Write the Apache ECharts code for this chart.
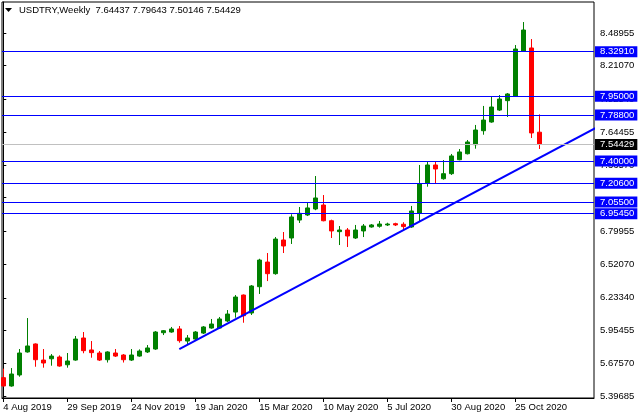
<!DOCTYPE html>
<html><head><meta charset="utf-8">
<script src="https://cdn.jsdelivr.net/npm/echarts@6/dist/echarts.min.js"></script>
<style>html,body{margin:0;padding:0;background:#fff}#c{width:640px;height:420px}</style>
</head><body><div id="c"></div>
<script>
const symbolName = 'USDTRY';
const period = 'Weekly';
const opens = [5.553,5.482,5.576,5.772,5.840,5.703,5.714,5.729,5.663,5.703,5.891,5.789,5.763,5.706,5.763,5.746,5.703,5.737,5.772,5.797,5.936,5.942,5.968,5.865,5.882,5.933,5.976,5.976,6.036,6.112,6.257,6.104,6.328,6.538,6.439,6.726,6.743,6.896,6.939,6.990,7.024,6.890,6.797,6.811,6.743,6.803,6.837,6.843,6.854,6.865,6.860,6.837,6.956,7.212,7.365,7.248,7.291,7.410,7.461,7.538,7.657,7.731,7.833,7.913,7.953,8.336,8.362,7.64437];
const closes = [5.482,5.584,5.763,5.823,5.706,5.678,5.737,5.652,5.695,5.882,5.783,5.766,5.703,5.772,5.737,5.706,5.746,5.780,5.806,5.942,5.953,5.968,5.868,5.891,5.942,5.985,6.010,6.053,6.095,6.240,6.081,6.334,6.555,6.439,6.734,6.675,6.922,6.953,6.999,7.084,6.890,6.803,6.811,6.760,6.811,6.845,6.854,6.862,6.862,6.854,6.840,6.973,7.206,7.365,7.331,7.291,7.442,7.476,7.561,7.663,7.748,7.859,7.927,7.970,8.353,8.515,7.638,7.54429];
const lows = [5.478,5.476,5.561,5.766,5.646,5.638,5.655,5.646,5.638,5.697,5.761,5.723,5.695,5.682,5.729,5.682,5.695,5.731,5.763,5.790,5.916,5.936,5.851,5.831,5.874,5.925,5.970,5.970,6.027,6.064,6.021,6.087,6.266,6.376,6.430,6.615,6.692,6.871,6.930,6.980,6.885,6.743,6.683,6.666,6.735,6.751,6.831,6.831,6.845,6.845,6.805,6.830,6.879,7.180,7.209,7.240,7.280,7.405,7.455,7.504,7.623,7.725,7.825,7.774,7.945,8.330,7.595,7.50146];
const highs = [5.630,5.635,5.797,6.061,5.845,5.797,5.754,5.743,5.763,5.908,5.942,5.865,5.780,5.778,5.797,5.754,5.797,5.794,5.831,5.950,5.959,5.985,5.993,5.916,5.950,5.993,6.053,6.070,6.129,6.257,6.262,6.342,6.566,6.615,6.751,6.794,6.945,7.007,7.041,7.271,7.109,6.899,6.845,6.828,6.854,6.862,6.862,6.888,6.873,6.873,6.877,7.016,7.365,7.394,7.394,7.407,7.459,7.501,7.578,7.706,7.868,7.944,7.961,7.978,8.387,8.583,8.438,7.79643];
const xTickIdx = [0,8,16,24,32,40,48,56,64];
const xTickLabels = ['4 Aug 2019','29 Sep 2019','24 Nov 2019','19 Jan 2020','15 Mar 2020','10 May 2020','5 Jul 2020','30 Aug 2020','25 Oct 2020'];
const yTicks = [8.48955,8.21070,7.92540,7.64455,7.36570,7.08685,6.79955,6.52070,6.23340,5.95455,5.67570,5.39685];
const yTickLabels = [8.48955,8.21070,7.92540,7.64455,7.36570,6.79955,6.52070,6.23340,5.95455,5.67570,5.39685];
const levels = [8.32910,7.95000,7.78800,7.40000,7.20600,7.05500,6.95450];
const trendX = [22, 74];
const trendY = [5.797, 7.678];

const FONT = '"Liberation Sans", Arial, sans-serif';
const candles = opens.map((o, i) => [i, o, closes[i], lows[i], highs[i]]);
const last = opens.length - 1;
const chart = echarts.init(document.getElementById('c'), null, {renderer: 'canvas'});
const levelData = levels.map(v => ({
  name: v.toFixed(5),
  yAxis: v,
  lineStyle: {color: '#0000FF', width: 1, type: 'solid', opacity: 1},
  label: {backgroundColor: '#0000FF', color: '#fff'}
}));
levelData.push({
  name: closes[last].toFixed(5),
  yAxis: closes[last],
  lineStyle: {color: '#C0C0C0', width: 1, type: 'solid', opacity: 1},
  label: {backgroundColor: '#000', color: '#fff'}
});
chart.setOption({
  animation: false,
  backgroundColor: '#fff',
  title: {
    text: symbolName + ',' + period + '  ' + opens[last].toFixed(5) + ' ' + highs[last].toFixed(5) + ' ' + lows[last].toFixed(5) + ' ' + closes[last].toFixed(5),
    left: 19, top: 5, padding: 0,
    textStyle: {fontFamily: FONT, fontSize: 9.5, fontWeight: 'normal', color: '#000'}
  },
  graphic: [{type: 'polygon', shape: {points: [[5, 8], [12, 8], [8.5, 12]]}, style: {fill: '#000'}}],
  grid: {left: 2, right: 46, top: 2, bottom: 22, show: true, borderColor: '#000', borderWidth: 1, backgroundColor: '#fff'},
  xAxis: {
    type: 'value', min: -0.1625, max: 73.8375,
    splitLine: {show: false},
    axisLine: {lineStyle: {color: '#000'}},
    axisTick: {customValues: xTickIdx, length: 4, lineStyle: {color: '#000'}},
    axisLabel: {customValues: xTickIdx, formatter: v => xTickLabels[xTickIdx.indexOf(v)] || '', align: 'left', margin: 4, color: '#000', fontFamily: FONT, fontSize: 9.5}
  },
  yAxis: {
    type: 'value', position: 'right', min: 5.37973, max: 8.75367,
    splitLine: {show: false},
    axisLine: {show: true, lineStyle: {color: '#000'}},
    axisTick: {show: true, customValues: yTicks, length: 3, lineStyle: {color: '#000'}},
    axisLabel: {customValues: yTickLabels, formatter: v => v.toFixed(5), margin: 6, color: '#000', fontFamily: FONT, fontSize: 9.5}
  },
  series: [
    {
      type: 'candlestick',
      data: candles,
      encode: {x: 0, y: [1, 2, 3, 4]},
      barWidth: 4,
      clip: true,
      itemStyle: {color: '#008000', color0: '#FF0000', borderColor: '#008000', borderColor0: '#FF0000', borderWidth: 1},
      markLine: {
        silent: true, animation: false, symbol: ['none', 'none'],
        lineStyle: {color: '#0000FF', width: 1, type: 'solid', opacity: 1},
        label: {position: 'end', formatter: '{b}', distance: 1, padding: [1, 3, 0, 5], fontFamily: FONT, fontSize: 9.5},
        data: levelData
      }
    },
    {
      type: 'line',
      data: trendX.map((x, i) => [x, trendY[i]]),
      showSymbol: false, symbol: 'none', clip: true, z: 3,
      lineStyle: {color: '#0000FF', width: 2}
    }
  ]
});
</script></body></html>
